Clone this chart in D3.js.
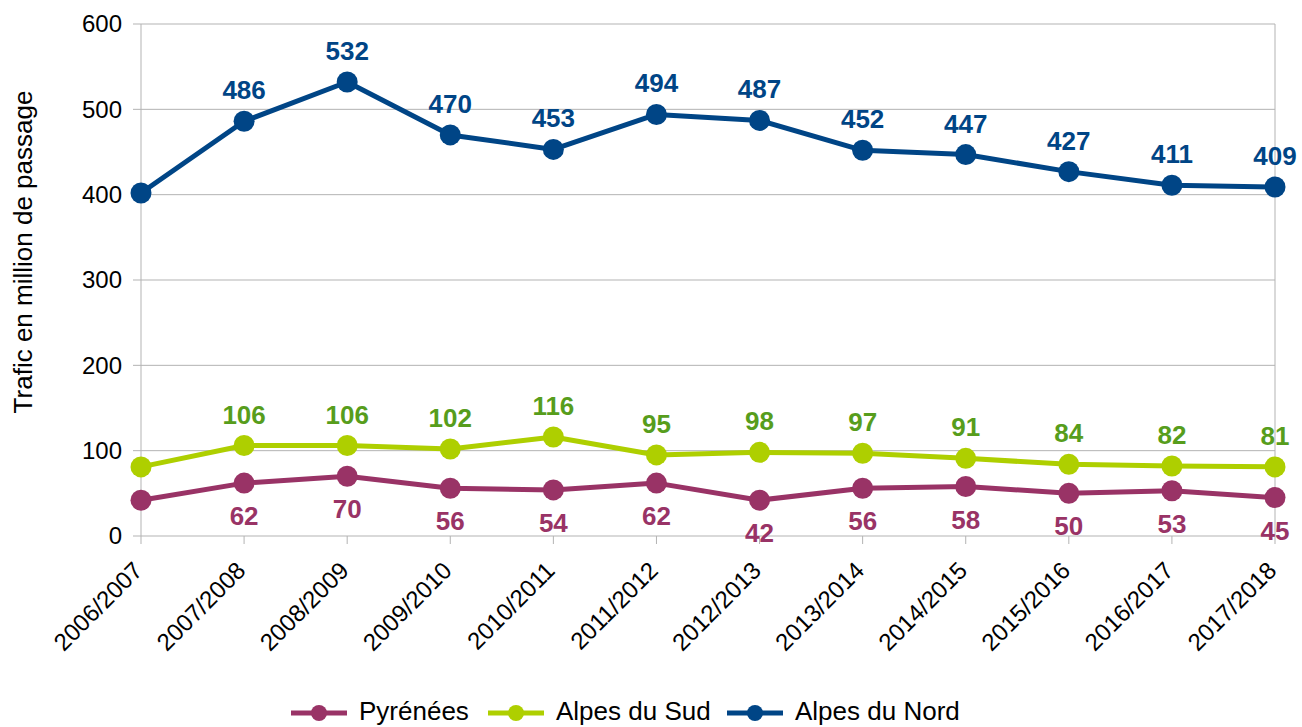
<!DOCTYPE html>
<html>
<head>
<meta charset="utf-8">
<script src="https://cdn.jsdelivr.net/npm/d3@7"></script>
<style>
  body { margin: 0; background: #fff; }
  text { font-family: "Liberation Sans", Arial, sans-serif; }
</style>
</head>
<body>
<svg id="chart" width="1302" height="727"></svg>
<script>
const width = 1302;
const height = 727;

// data
const seasons = ["2006/2007", "2007/2008", "2008/2009", "2009/2010", "2010/2011", "2011/2012",
  "2012/2013", "2013/2014", "2014/2015", "2015/2016", "2016/2017", "2017/2018"];
const pyrenees = [42, 62, 70, 56, 54, 62, 42, 56, 58, 50, 53, 45];
const alpesSud = [81, 106, 106, 102, 116, 95, 98, 97, 91, 84, 82, 81];
const alpesNord = [402, 486, 532, 470, 453, 494, 487, 452, 447, 427, 411, 409];
const yTicks = [0, 100, 200, 300, 400, 500, 600];

const series = [
  { name: "Pyrénées", values: pyrenees, color: "#993366", labelColor: "#993366", below: true },
  { name: "Alpes du Sud", values: alpesSud, color: "#aecf00", labelColor: "#579d1c", below: false },
  { name: "Alpes du Nord", values: alpesNord, color: "#004586", labelColor: "#004586", below: false }
];

const margin = { left: 141, right: 27, top: 24, bottom: 191 };

const svg = d3.select("#chart");

const x = d3.scalePoint()
  .domain(seasons)
  .range([margin.left, width - margin.right]);

const y = d3.scaleLinear()
  .domain([0, 600])
  .range([height - margin.bottom, margin.top]);

// grid lines
svg.append("g")
  .selectAll("line")
  .data(yTicks)
  .enter()
  .append("line")
  .attr("x1", margin.left - 8)
  .attr("x2", width - margin.right)
  .attr("y1", d => y(d))
  .attr("y2", d => y(d))
  .attr("stroke", "#b3b3b3")
  .attr("stroke-width", 1);

// left & right verticals
[margin.left, width - margin.right].forEach(px => {
  svg.append("line")
    .attr("x1", px).attr("x2", px)
    .attr("y1", y(600)).attr("y2", y(0))
    .attr("stroke", "#b3b3b3");
});

// x ticks
svg.append("g")
  .selectAll("line")
  .data(seasons)
  .enter()
  .append("line")
  .attr("x1", d => x(d))
  .attr("x2", d => x(d))
  .attr("y1", y(0))
  .attr("y2", y(0) + 8)
  .attr("stroke", "#b3b3b3");

// y tick labels
svg.append("g")
  .selectAll("text")
  .data(yTicks)
  .enter()
  .append("text")
  .attr("x", margin.left - 19)
  .attr("y", d => y(d))
  .attr("dy", "0.35em")
  .attr("text-anchor", "end")
  .attr("font-size", 24)
  .attr("fill", "#000")
  .text(d => d);

// x tick labels
svg.append("g")
  .selectAll("text")
  .data(seasons)
  .enter()
  .append("text")
  .attr("transform", d => `translate(${x(d) - 3}, ${y(0) + 30}) rotate(-45)`)
  .attr("text-anchor", "end")
  .attr("dy", "0.35em")
  .attr("font-size", 24)
  .attr("fill", "#000")
  .text(d => d);

// y axis title
svg.append("text")
  .attr("transform", `translate(32, 252) rotate(-90)`)
  .attr("text-anchor", "middle")
  .attr("font-size", 26)
  .attr("fill", "#000")
  .text("Trafic en million de passage");

const line = d3.line()
  .x((d, i) => x(seasons[i]))
  .y(d => y(d));

series.forEach(s => {
  const g = svg.append("g");
  g.append("path")
    .datum(s.values)
    .attr("fill", "none")
    .attr("stroke", s.color)
    .attr("stroke-width", 5)
    .attr("stroke-linejoin", "round")
    .attr("d", line);

  g.selectAll("circle")
    .data(s.values)
    .enter()
    .append("circle")
    .attr("cx", (d, i) => x(seasons[i]))
    .attr("cy", d => y(d))
    .attr("r", 10.5)
    .attr("fill", s.color);

  // labels (first point not labelled)
  g.selectAll("text")
    .data(s.values.slice(1))
    .enter()
    .append("text")
    .attr("x", (d, i) => x(seasons[i + 1]))
    .attr("y", d => s.below ? y(d) + 42 : y(d) - 22)
    .attr("text-anchor", "middle")
    .attr("font-size", 26)
    .attr("font-weight", "bold")
    .attr("fill", s.labelColor)
    .text(d => d);
});

// legend
const legendItems = [
  { name: "Pyrénées", color: "#993366", x: 291 },
  { name: "Alpes du Sud", color: "#aecf00", x: 488 },
  { name: "Alpes du Nord", color: "#004586", x: 727 }
];
const ly = 711;
const legend = svg.append("g");
legendItems.forEach(it => {
  legend.append("line")
    .attr("x1", it.x).attr("x2", it.x + 56)
    .attr("y1", ly + 2).attr("y2", ly + 2)
    .attr("stroke", it.color)
    .attr("stroke-width", 5);
  legend.append("circle")
    .attr("cx", it.x + 28).attr("cy", ly + 2).attr("r", 8)
    .attr("fill", it.color);
  legend.append("text")
    .attr("x", it.x + 68).attr("y", ly)
    .attr("dy", "0.35em")
    .attr("font-size", 26)
    .attr("fill", "#000")
    .text(it.name);
});
</script>
</body>
</html>
